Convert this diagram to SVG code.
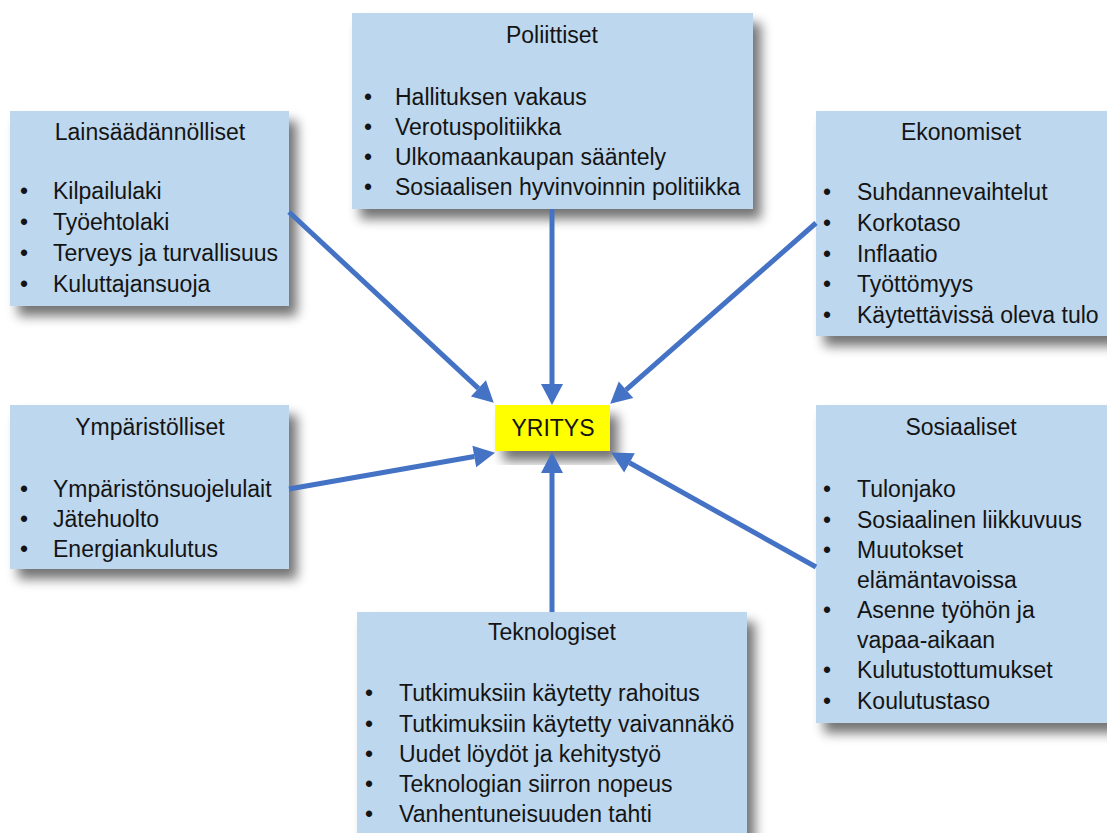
<svg xmlns="http://www.w3.org/2000/svg" width="1107" height="833" viewBox="0 0 1107 833">
<style>
.box{fill:#BDD7EE;filter:url(#sh)}
.t{font-family:"Liberation Sans",Arial,sans-serif;font-size:23px;fill:#141414}
.c{text-anchor:middle}
.y{font-family:"Liberation Sans",Arial,sans-serif;font-size:23px;fill:#141414;text-anchor:middle}
.con{stroke:#4472C4;stroke-width:5;fill:none;marker-end:url(#ah)}
</style>
<defs>
<filter id="sh" x="-20%" y="-20%" width="150%" height="150%">
<feGaussianBlur in="SourceAlpha" stdDeviation="6"/>
<feOffset dx="8" dy="10" result="b"/>
<feComponentTransfer><feFuncA type="linear" slope="0.55"/></feComponentTransfer>
<feMerge><feMergeNode/><feMergeNode in="SourceGraphic"/></feMerge>
</filter>
<marker id="ah" markerUnits="userSpaceOnUse" markerWidth="22" markerHeight="24" refX="0" refY="11" orient="auto" overflow="visible">
<path d="M0,0 L21,11 L0,22 z" fill="#4472C4"/>
</marker>
</defs>
<rect width="1107" height="833" fill="#fff"/>

<g id="poliittiset">
<rect class="box" x="352" y="13" width="401" height="196"/>
<text class="t c" x="552" y="43">Poliittiset</text>
<text class="t" x="364" y="105">•</text><text class="t" x="395" y="105">Hallituksen vakaus</text>
<text class="t" x="364" y="135">•</text><text class="t" x="395" y="135">Verotuspolitiikka</text>
<text class="t" x="364" y="165">•</text><text class="t" x="395" y="165">Ulkomaankaupan sääntely</text>
<text class="t" x="364" y="195">•</text><text class="t" x="395" y="195">Sosiaalisen hyvinvoinnin politiikka</text>
</g>

<g id="lainsaadannolliset">
<rect class="box" x="10" y="111" width="279" height="195"/>
<text class="t c" x="150" y="140">Lainsäädännölliset</text>
<text class="t" x="20" y="199">•</text><text class="t" x="53" y="199">Kilpailulaki</text>
<text class="t" x="20" y="230">•</text><text class="t" x="53" y="230">Työehtolaki</text>
<text class="t" x="20" y="261">•</text><text class="t" x="53" y="261">Terveys ja turvallisuus</text>
<text class="t" x="20" y="292">•</text><text class="t" x="53" y="292">Kuluttajansuoja</text>
</g>

<g id="ekonomiset">
<rect class="box" x="816" y="111" width="300" height="225"/>
<text class="t c" x="961" y="140">Ekonomiset</text>
<text class="t" x="823" y="200">•</text><text class="t" x="857" y="200">Suhdannevaihtelut</text>
<text class="t" x="823" y="231">•</text><text class="t" x="857" y="231">Korkotaso</text>
<text class="t" x="823" y="262">•</text><text class="t" x="857" y="262">Inflaatio</text>
<text class="t" x="823" y="292">•</text><text class="t" x="857" y="292">Työttömyys</text>
<text class="t" x="823" y="323">•</text><text class="t" x="857" y="323">Käytettävissä oleva tulo</text>
</g>

<g id="ymparistolliset">
<rect class="box" x="10" y="405" width="279" height="164"/>
<text class="t c" x="150" y="435">Ympäristölliset</text>
<text class="t" x="20" y="497">•</text><text class="t" x="53" y="497">Ympäristönsuojelulait</text>
<text class="t" x="20" y="527">•</text><text class="t" x="53" y="527">Jätehuolto</text>
<text class="t" x="20" y="557">•</text><text class="t" x="53" y="557">Energiankulutus</text>
</g>

<g id="sosiaaliset">
<rect class="box" x="816" y="405" width="300" height="318"/>
<text class="t c" x="961" y="435">Sosiaaliset</text>
<text class="t" x="823" y="497">•</text><text class="t" x="857" y="497">Tulonjako</text>
<text class="t" x="823" y="528">•</text><text class="t" x="857" y="528">Sosiaalinen liikkuvuus</text>
<text class="t" x="823" y="558">•</text><text class="t" x="857" y="558">Muutokset</text>
<text class="t" x="857" y="588">elämäntavoissa</text>
<text class="t" x="823" y="618">•</text><text class="t" x="857" y="618">Asenne työhön ja</text>
<text class="t" x="857" y="648">vapaa-aikaan</text>
<text class="t" x="823" y="678">•</text><text class="t" x="857" y="678">Kulutustottumukset</text>
<text class="t" x="823" y="709">•</text><text class="t" x="857" y="709">Koulutustaso</text>
</g>

<g id="teknologiset">
<rect class="box" x="357" y="612" width="390" height="240"/>
<text class="t c" x="552" y="640">Teknologiset</text>
<text class="t" x="365" y="701">•</text><text class="t" x="399" y="701">Tutkimuksiin käytetty rahoitus</text>
<text class="t" x="365" y="732">•</text><text class="t" x="399" y="732">Tutkimuksiin käytetty vaivannäkö</text>
<text class="t" x="365" y="762">•</text><text class="t" x="399" y="762">Uudet löydöt ja kehitystyö</text>
<text class="t" x="365" y="792">•</text><text class="t" x="399" y="792">Teknologian siirron nopeus</text>
<text class="t" x="365" y="822">•</text><text class="t" x="399" y="822">Vanhentuneisuuden tahti</text>
</g>

<g id="yritys">
<rect x="495" y="405" width="115" height="46" fill="#FFFF00" filter="url(#sh)"/>
<text class="y" x="553" y="436">YRITYS</text>
</g>

<g id="connectors">
<line class="con" x1="289" y1="212" x2="478.4" y2="388.4"/>
<line class="con" x1="552" y1="209" x2="552" y2="384"/>
<line class="con" x1="816" y1="223" x2="626" y2="389.8"/>
<line class="con" x1="289" y1="489" x2="474.3" y2="456.5"/>
<line class="con" x1="552" y1="612" x2="552" y2="473"/>
<line class="con" x1="816" y1="567" x2="629.5" y2="462.8"/>
</g>
</svg>
